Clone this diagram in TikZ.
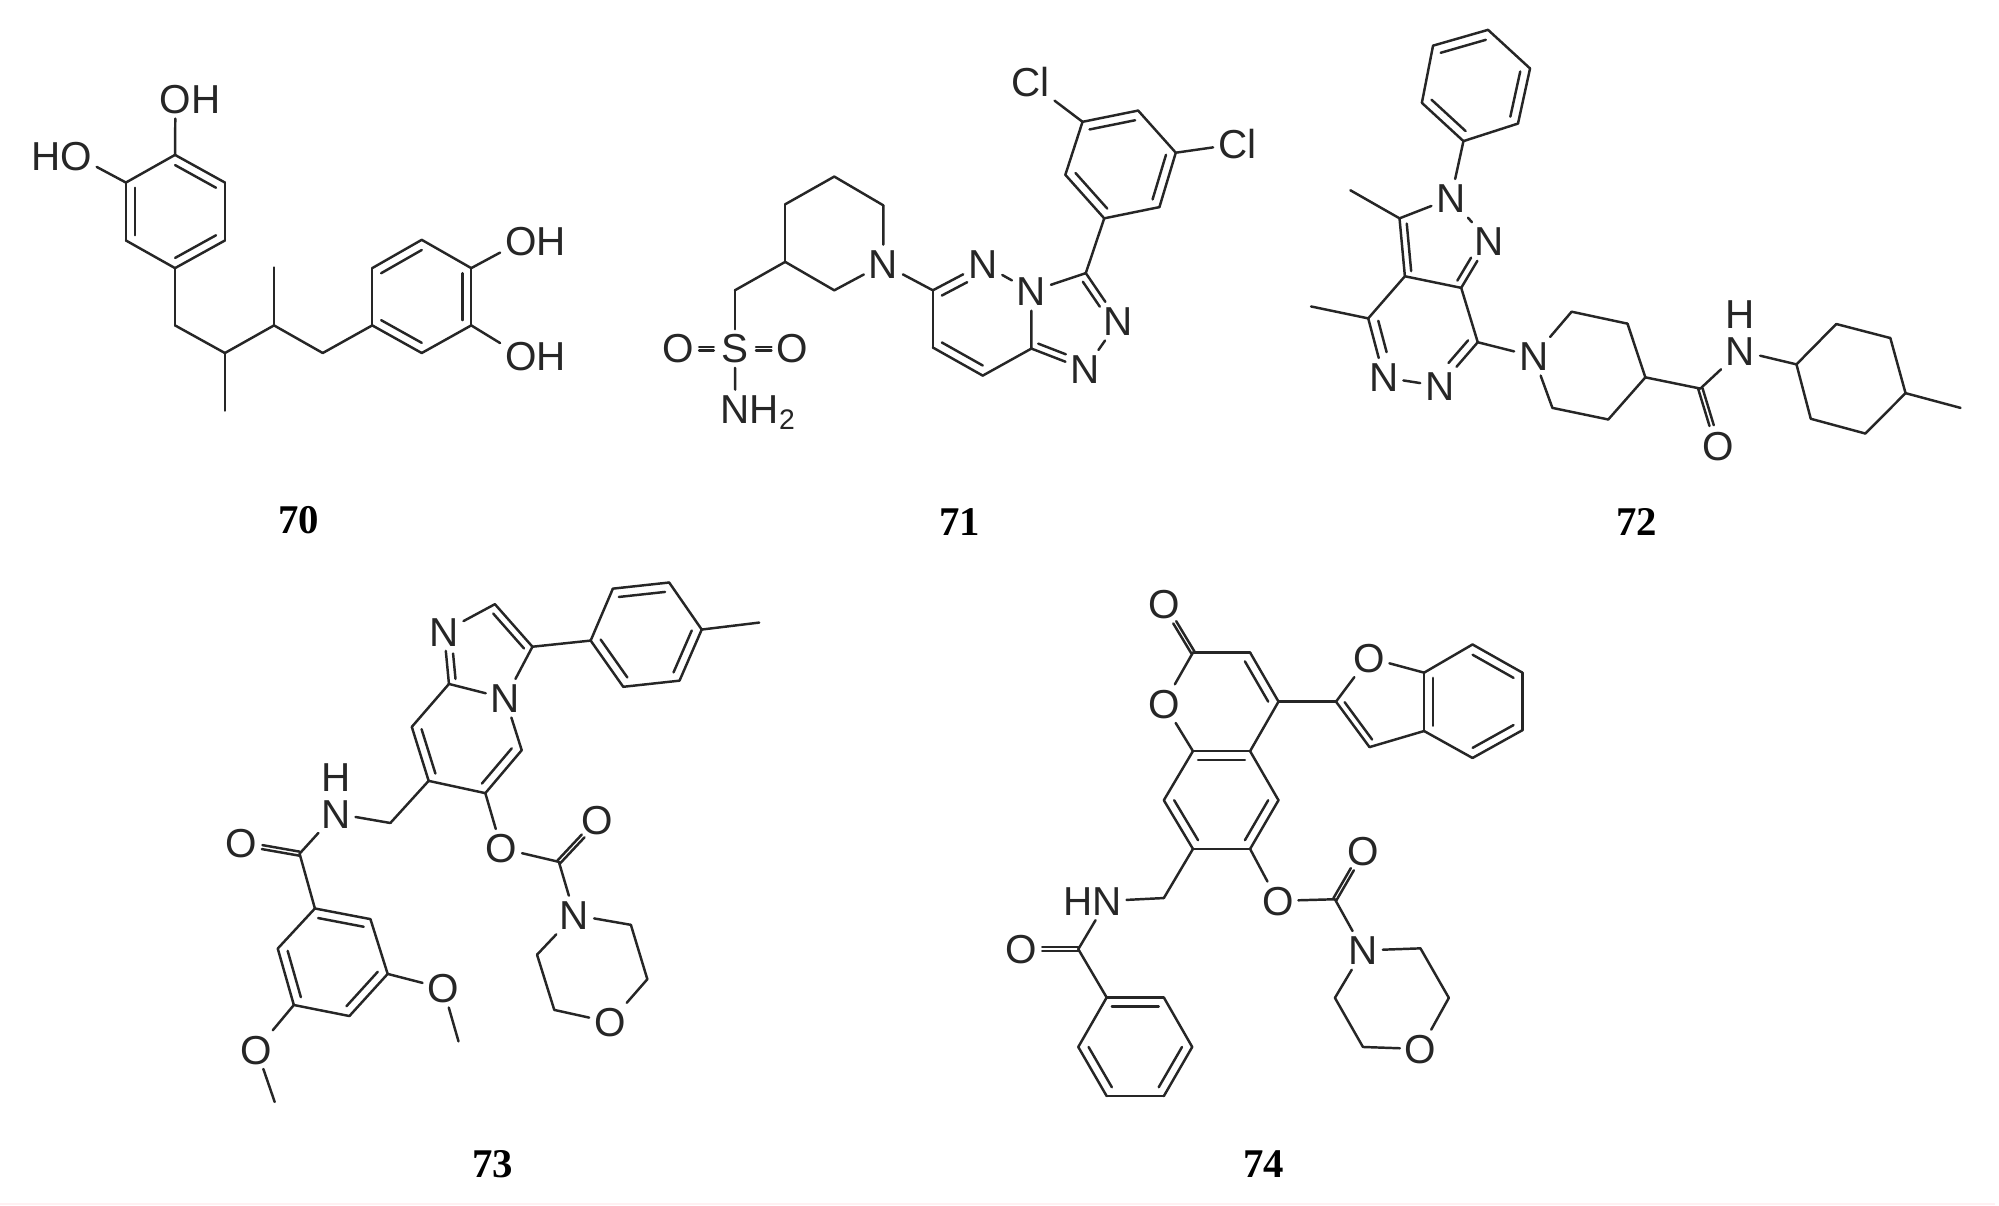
\documentclass[tikz,border=0pt]{standalone}
\usepackage{fontspec}
\setmainfont{Liberation Sans}
\newfontfamily\cmpdfont{Liberation Serif}
\usetikzlibrary{calc}
\definecolor{ink}{HTML}{262626}
\definecolor{stripcol}{HTML}{FFF0F2}
\tikzset{
  bond/.style={draw=ink,line width=0.7pt,line cap=round},
  atom/.style={inner sep=1.2pt,text=ink,font=\fontsize{11.5}{13}\selectfont,text height=8.2pt,text depth=0pt,anchor=center},
  cmpd/.style={inner sep=0pt,text=black,font=\cmpdfont\bfseries\fontsize{11.6}{13}\selectfont}
}
% atoms without a label
\newcommand{\pts}[1]{\foreach \n/\xx/\yy in {#1} {\coordinate (\n) at (\xx,\yy);}}
% plain single bonds
\newcommand{\bds}[1]{\foreach \u/\v in {#1} {\draw[bond] (\u) -- (\v);}}
% inner line of a ring double bond, pulled to the ring centre
\newcommand{\inr}[1]{\foreach \u/\v/\c in {#1} {\draw[bond] ($(\u)!.18!(\c)$) -- ($(\v)!.18!(\c)$);}}
% the same, when the second atom has a printed label
\newcommand{\inl}[1]{\foreach \u/\v/\c in {#1} {\draw[bond,shorten >=5pt] ($(\u)!.18!(\c)$) -- ($(\v)!.18!(\c)$);}}
% symmetric double bond: start shortening, end shortening
\newcommand{\symb}[4]{\draw[bond,shorten <=#3,shorten >=#4] ($(#1)!1.4pt!90:(#2)$) -- ($(#2)!1.4pt!-90:(#1)$);
  \draw[bond,shorten <=#3,shorten >=#4] ($(#1)!1.4pt!-90:(#2)$) -- ($(#2)!1.4pt!90:(#1)$);}
\begin{document}
\begin{tikzpicture}[x=0.01cm,y=-0.01cm]
\useasboundingbox (0,0) rectangle (1999,1205);
\fill[white] (0,0) rectangle (1999,1205);
\fill[stripcol] (0,1203) rectangle (1995,1205);

%% ---- 70 ----
\begin{scope}[shift={(0,50)},xscale=.396,yscale=.333,name prefix=a-]
\pts{r1/442/315,r2/568/398,r3/568/572,r4/442/655,r5/318/572,r6/318/398,rc/443/485,
c1/442/827,c2/568/910,c3/692/827,c4/815/910,m1/568/1083,m2/692/653,
p1/940/827,p2/940/655,p3/1065/570,p4/1190/655,p5/1190/827,p6/1065/910,pc/1065/740}
\node[atom] (o1) at (443,148) {O\rlap{H}};
\node[atom] (o2) at (192,318) {\llap{H}O};
\node[atom] (o3) at (1315,575) {O\rlap{H}};
\node[atom] (o4) at (1315,918) {O\rlap{H}};
\bds{r1/r2,r2/r3,r3/r4,r4/r5,r5/r6,r6/r1,r1/o1,r6/o2,r4/c1,c1/c2,c2/c3,c3/c4,c4/p1,c2/m1,c3/m2,
p1/p2,p2/p3,p3/p4,p4/p5,p5/p6,p6/p1,p4/o3,p5/o4}
\inr{r1/r2/rc,r3/r4/rc,r5/r6/rc,p2/p3/pc,p4/p5/pc,p6/p1/pc}
\node[cmpd] (lab) at (755,1413) {70};
\end{scope}

%% ---- 71 ----
\begin{scope}[shift={(640,0)},xscale=.409,yscale=.351,name prefix=b-]
\pts{a/595/585,b/475/503,c/355/582,d/355/746,e/475/827,f/232/827,
g/716/827,h/957/993,i/838/1070,j/716/990,k/1090/778,hc/838/910,tc/1050/915,
A1/1135/622,A2/1040/498,A3/1082/347,A4/1218/315,A5/1310/435,A6/1270/590,Ac/1177/468}
\node[atom] (n) at (595,752) {N};
\node[atom] (s) at (232,993) {S};
\node[atom] (ol) at (93,993) {O};
\node[atom] (or) at (373,993) {O};
\node[atom] (nh) at (233,1165) {N\rlap{H\textsubscript{2}}};
\node[atom] (n2) at (838,752) {N};
\node[atom] (n4) at (957,830) {N};
\node[atom] (n5) at (1170,915) {N};
\node[atom] (n6) at (1088,1052) {N};
\node[atom] (cl1) at (955,235) {Cl};
\node[atom] (cl2) at (1460,410) {Cl};
\bds{n/a,a/b,b/c,c/d,d/e,e/n,d/f,f/s,s/nh,n/g,g/n2,n2/n4,n4/h,h/i,i/j,j/g,n4/k,k/n5,n5/n6,n6/h,
k/A1,A1/A2,A2/A3,A3/A4,A4/A5,A5/A6,A6/A1,A3/cl1,A5/cl2}
\symb{s}{ol}{6pt}{6pt}
\symb{s}{or}{6pt}{6pt}
\inr{j/i/hc,A1/A2/Ac,A3/A4/Ac,A5/A6/Ac}
\inl{g/n2/hc,k/n5/tc,h/n6/tc}
\node[cmpd] (lab) at (782,1488) {71};
\end{scope}

%% ---- 72 ----
\begin{scope}[shift={(1290,0)},xscale=.447,yscale=.351,name prefix=c-]
\pts{P1/388/402,P2/295/293,P3/320/130,P4/443/85,P5/537/195,P6/510/352,Pc/415/243,
c3/245/622,m3/135/542,c3a/257/787,c7a/383/820,c4/175/907,m4/47/873,c7/420/975,pz/335/705,sx/300/945,
a/630/888,b/755/922,c/795/1075,d/712/1195,e/587/1162,co/918/1107,
y1/1133/1038,y2/1222/923,y3/1343/963,y4/1377/1120,y5/1287/1235,y6/1165/1193,ym/1500/1162}
\node[atom] (n1) at (360,565) {N};
\node[atom] (n2) at (445,688) {N};
\node[atom] (n5) at (210,1075) {N};
\node[atom] (n6) at (335,1100) {N};
\node[atom] (np) at (545,1015) {N};
\node[atom] (nh) at (1008,1000) {N};
\node[atom] (hh) at (1008,895) {H};
\node[atom] (o) at (957,1270) {O};
\bds{P1/P2,P2/P3,P3/P4,P4/P5,P5/P6,P6/P1,P1/n1,n1/c3,c3/m3,n1/n2,c3/c3a,c3a/c7a,c7a/n2,
c3a/c4,c4/m4,c4/n5,n5/n6,n6/c7,c7/c7a,c7/np,np/a,a/b,b/c,c/d,d/e,e/np,c/co,co/nh,nh/y1,
y1/y2,y2/y3,y3/y4,y4/y5,y5/y6,y6/y1,y4/ym}
\symb{co}{o}{0pt}{6pt}
\inr{P1/P2/Pc,P3/P4/Pc,P5/P6/Pc,c3/c3a/pz}
\inl{c7a/n2/pz,c4/n5/sx,c7/n6/sx}
\node[cmpd] (lab) at (775,1488) {72};
\end{scope}

%% ---- 73 ----
\begin{scope}[shift={(200,560)},xscale=.383,yscale=.409,name prefix=d-]
\pts{c2/770/108,c3/868/212,c8a/650/303,c8/553/408,c7/597/540,c6/745/570,c5/840/465,iz/745/235,py/695/440,
T1/1020/197,T2/1078/70,T3/1225/55,T4/1310/170,T5/1252/295,T6/1105/310,Tc/1165/183,Tm/1460/153,
ch/497/643,ca/260/718,
B1/300/852,B2/445/878,B3/490/1012,B4/390/1115,B5/245/1088,B6/203/950,Bc/347/982,
m1/675/1177,m2/195/1325,
cc/937/738,x1/1125/892,x2/1168/1025,x3/925/1100,x4/880/965}
\node[atom] (ni) at (637,175) {N};
\node[atom] (n4) at (797,338) {N};
\node[atom] (nh) at (355,620) {N};
\node[atom] (hh) at (355,530) {H};
\node[atom] (oa) at (108,693) {O};
\node[atom] (om1) at (635,1047) {O};
\node[atom] (om2) at (148,1197) {O};
\node[atom] (oc) at (787,705) {O};
\node[atom] (od) at (1038,637) {O};
\node[atom] (nm) at (978,868) {N};
\node[atom] (om) at (1070,1130) {O};
\bds{ni/c2,c2/c3,c3/n4,n4/c8a,c8a/ni,c8a/c8,c8/c7,c7/c6,c6/c5,c5/n4,c3/T1,T1/T2,T2/T3,T3/T4,T4/T5,T5/T6,T6/T1,T4/Tm,
c7/ch,ch/nh,nh/ca,ca/B1,B1/B2,B2/B3,B3/B4,B4/B5,B5/B6,B6/B1,B3/om1,om1/m1,B5/om2,om2/m2,
c6/oc,oc/cc,cc/nm,nm/x1,x1/x2,x2/om,om/x3,x3/x4,x4/nm}
\symb{ca}{oa}{0pt}{6pt}
\symb{cc}{od}{0pt}{6pt}
\inr{c2/c3/iz,c8/c7/py,c6/c5/py,T1/T6/Tc,T2/T3/Tc,T4/T5/Tc,B1/B2/Bc,B3/B4/Bc,B5/B6/Bc}
\inl{c8a/ni/iz}
\node[cmpd] (lab) at (765,1477) {73};
\end{scope}

%% ---- 74 ----
\begin{scope}[shift={(980,570)},xscale=.364,yscale=.4025,name prefix=e-]
\pts{c2/585/205,c3/742/205,c4/820/327,c4a/742/450,c8a/585/450,c5/820/572,c6/742/693,c7/585/693,c8/505/572,
pc/663/327,bc/663/572,
f2/978/327,f3/1070/440,f3a/1220/400,f7a/1220/255,fc/1110/335,
z1/1353/185,z2/1490/255,z3/1490/398,z4/1353/467,zc/1355/327,
ch/505/815,ca/270/942,
h1/348/1062,h2/505/1062,h3/583/1185,h4/505/1307,h5/348/1307,h6/270/1185,hc/427/1185,
cc/975/818,x1/1210/940,x2/1288/1063,x3/1052/1185,x4/975/1063}
\node[atom] (ot) at (505,85) {O};
\node[atom] (o1) at (505,332) {O};
\node[atom] (of) at (1068,218) {O};
\node[atom] (nh) at (349,822) {\llap{H}N};
\node[atom] (oa) at (113,942) {O};
\node[atom] (oc) at (818,822) {O};
\node[atom] (od) at (1052,698) {O};
\node[atom] (nm) at (1053,945) {N};
\node[atom] (om) at (1210,1190) {O};
\bds{c2/c3,c3/c4,c4/c4a,c4a/c8a,c8a/o1,o1/c2,c4a/c5,c5/c6,c6/c7,c7/c8,c8/c8a,
c4/f2,f2/of,of/f7a,f7a/f3a,f3a/f3,f3/f2,f7a/z1,z1/z2,z2/z3,z3/z4,z4/f3a,
c7/ch,ch/nh,nh/ca,ca/h1,h1/h2,h2/h3,h3/h4,h4/h5,h5/h6,h6/h1,
c6/oc,oc/cc,cc/nm,nm/x1,x1/x2,x2/om,om/x3,x3/x4,x4/nm}
\symb{c2}{ot}{0pt}{6pt}
\symb{ca}{oa}{0pt}{6pt}
\symb{cc}{od}{0pt}{6pt}
\inr{c3/c4/pc,c4a/c8a/bc,c5/c6/bc,c7/c8/bc,f2/f3/fc,f7a/f3a/zc,z1/z2/zc,z3/z4/zc,h1/h2/hc,h3/h4/hc,h5/h6/hc}
\node[cmpd] (lab) at (780,1477) {74};
\end{scope}
\end{tikzpicture}
\end{document}
